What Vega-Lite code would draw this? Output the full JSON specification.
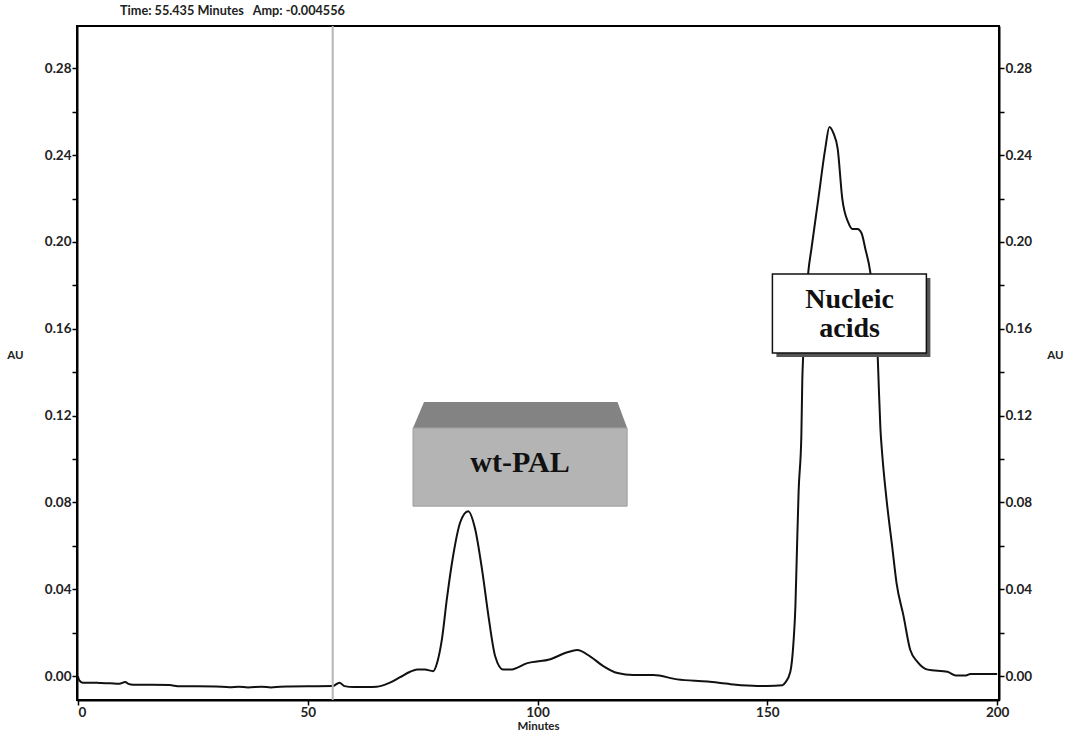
{
  "$schema": "https://vega.github.io/schema/vega-lite/v6.json",
  "width": 922,
  "height": 674,
  "autosize": {"type": "none"},
  "padding": {"left": 77, "top": 26, "right": 70, "bottom": 33},
  "background": "white",
  "config": {
    "view": {"stroke": "#000", "strokeWidth": 2},
    "axis": {
      "domainColor": "#000", "domainWidth": 2, "tickColor": "#000", "tickWidth": 1.5, "tickSize": 5,
      "labelFont": "Lato", "labelFontWeight": "bold", "labelFontSize": 13.5, "labelColor": "#222",
      "titleFont": "Lato", "titleFontWeight": "bold", "titleFontSize": 11.5, "titleColor": "#222",
      "grid": false
    }
  },
  "title": {
    "text": "Time: 55.435 Minutes\u00a0\u00a0\u00a0Amp: -0.004556",
    "anchor": "start", "frame": "group", "dx": 43, "offset": 7,
    "font": "Lato", "fontWeight": "bold", "fontSize": 12.7, "color": "#222"
  },
  "datasets": {
    "curve": [
      {"t": 0, "au": 0.000}, {"t": 0.3, "au": -0.002}, {"t": 1, "au": -0.003}, {"t": 3, "au": -0.003},
      {"t": 5, "au": -0.0032}, {"t": 7, "au": -0.0033}, {"t": 9, "au": -0.0035}, {"t": 10.3, "au": -0.0027},
      {"t": 11, "au": -0.0036}, {"t": 12, "au": -0.004}, {"t": 16, "au": -0.004}, {"t": 20, "au": -0.0041},
      {"t": 21, "au": -0.0044}, {"t": 22, "au": -0.0047}, {"t": 26, "au": -0.0047}, {"t": 30, "au": -0.0048},
      {"t": 33, "au": -0.0051}, {"t": 35, "au": -0.0049}, {"t": 37, "au": -0.0052}, {"t": 40, "au": -0.0049},
      {"t": 42, "au": -0.0052}, {"t": 44, "au": -0.0049}, {"t": 46, "au": -0.0048}, {"t": 50, "au": -0.0047},
      {"t": 55.4, "au": -0.0046}, {"t": 56.9, "au": -0.003}, {"t": 58, "au": -0.0046}, {"t": 60, "au": -0.005},
      {"t": 63, "au": -0.005}, {"t": 65, "au": -0.0049}, {"t": 67.9, "au": -0.003}, {"t": 70.1, "au": -0.0005},
      {"t": 72.3, "au": 0.002}, {"t": 73.8, "au": 0.003}, {"t": 75.5, "au": 0.003}, {"t": 77.3, "au": 0.0023},
      {"t": 78.2, "au": 0.0065}, {"t": 79.2, "au": 0.017}, {"t": 80.3, "au": 0.036}, {"t": 81.6, "au": 0.055},
      {"t": 83.2, "au": 0.071}, {"t": 84.9, "au": 0.076}, {"t": 86.4, "au": 0.068}, {"t": 88.0, "au": 0.048},
      {"t": 89.3, "au": 0.028}, {"t": 90.8, "au": 0.009}, {"t": 92.5, "au": 0.003}, {"t": 94.1, "au": 0.003},
      {"t": 97.8, "au": 0.006}, {"t": 102.8, "au": 0.0078}, {"t": 106.5, "au": 0.011}, {"t": 108.6, "au": 0.012},
      {"t": 111.5, "au": 0.009}, {"t": 114.3, "au": 0.0046}, {"t": 117.4, "au": 0.0014}, {"t": 120.8, "au": 0.0005},
      {"t": 125.2, "au": 0.0005}, {"t": 130.4, "au": -0.0015}, {"t": 137.0, "au": -0.0025}, {"t": 142.0, "au": -0.0037},
      {"t": 147.8, "au": -0.0045}, {"t": 150, "au": -0.0045}, {"t": 153.3, "au": -0.0042}, {"t": 153.9, "au": -0.003},
      {"t": 155.0, "au": 0.002}, {"t": 155.7, "au": 0.016}, {"t": 156.1, "au": 0.032}, {"t": 156.4, "au": 0.055},
      {"t": 156.8, "au": 0.085}, {"t": 157.4, "au": 0.111}, {"t": 157.6, "au": 0.136}, {"t": 157.8, "au": 0.148},
      {"t": 158.9, "au": 0.186}, {"t": 159.6, "au": 0.197}, {"t": 161.1, "au": 0.220}, {"t": 162.6, "au": 0.243},
      {"t": 163.5, "au": 0.253}, {"t": 164.4, "au": 0.250}, {"t": 165.3, "au": 0.243}, {"t": 166.3, "au": 0.220},
      {"t": 167.6, "au": 0.209}, {"t": 168.5, "au": 0.206}, {"t": 169.6, "au": 0.206}, {"t": 170.5, "au": 0.204},
      {"t": 171.3, "au": 0.197}, {"t": 172.4, "au": 0.186}, {"t": 174.0, "au": 0.148}, {"t": 174.2, "au": 0.136},
      {"t": 174.6, "au": 0.114}, {"t": 175.0, "au": 0.102}, {"t": 175.9, "au": 0.082}, {"t": 177.2, "au": 0.059},
      {"t": 178.1, "au": 0.043}, {"t": 179.6, "au": 0.028}, {"t": 181.1, "au": 0.012}, {"t": 182.7, "au": 0.0065},
      {"t": 184.9, "au": 0.003}, {"t": 189.2, "au": 0.002}, {"t": 191.0, "au": 0.0003}, {"t": 193.2, "au": 0.0003},
      {"t": 194.2, "au": 0.001}, {"t": 200, "au": 0.001}
    ],
    "roof": [
      {"t": 72.9, "top": 0.1143, "base": 0.1143},
      {"t": 75.3, "top": 0.1263, "base": 0.1143},
      {"t": 117.4, "top": 0.1263, "base": 0.1143},
      {"t": 119.5, "top": 0.1143, "base": 0.1143}
    ],
    "labels": [
      {"name": "wt-PAL", "x1": 72.9, "x2": 119.5, "y1": 0.0783, "y2": 0.1143, "tx": 96.2, "ty": 0.0982},
      {"name": "Nucleic acids", "x1": 151.1, "x2": 184.6, "y1": 0.1488, "y2": 0.1853, "tx": 167.9, "ty": 0.1733}
    ],
    "cursor": [{"t": 55.435}]
  },
  "layer": [
    {
      "data": {"name": "curve"},
      "mark": {"type": "line", "color": "#111", "strokeWidth": 2, "interpolate": "monotone", "clip": true},
      "encoding": {
        "x": {"field": "t", "type": "quantitative", "scale": {"domain": [-0.2, 200.4], "nice": false, "zero": false},
              "axis": {"values": [0, 50, 100, 150, 200], "title": "Minutes", "titlePadding": 2, "labelPadding": 0}},
        "y": {"field": "au", "type": "quantitative", "scale": {"domain": [-0.011, 0.2995], "nice": false, "zero": false},
              "axis": {"orient": "left", "values": [0, 0.02, 0.04, 0.06, 0.08, 0.1, 0.12, 0.14, 0.16, 0.18, 0.2, 0.22, 0.24, 0.26, 0.28],
                       "labelExpr": "round(datum.value*100) % 4 == 0 ? format(datum.value, '.2f') : ''",
                       "title": "AU", "titleAngle": 0, "titleX": -62, "titleY": 329, "titleAlign": "center", "titleBaseline": "middle", "labelPadding": 1}}
      }
    },
    {
      "data": {"name": "cursor"},
      "mark": {"type": "rule", "color": "#b5b5b5", "strokeWidth": 2},
      "encoding": {"x": {"field": "t", "type": "quantitative"}}
    },
    {
      "data": {"name": "roof"},
      "mark": {"type": "area", "color": "#838383", "opacity": 1},
      "encoding": {
        "x": {"field": "t", "type": "quantitative"},
        "y": {"field": "top", "type": "quantitative", "axis": null},
        "y2": {"field": "base"}
      }
    },
    {
      "data": {"name": "labels"},
      "transform": [{"filter": "datum.name == 'wt-PAL'"}],
      "layer": [
        {"mark": {"type": "rect", "fill": "#b4b4b4", "stroke": "#a0a0a0", "strokeWidth": 1},
         "encoding": {"x": {"field": "x1", "type": "quantitative"}, "x2": {"field": "x2"},
                      "y": {"field": "y1", "type": "quantitative", "axis": null}, "y2": {"field": "y2"}}},
        {"mark": {"type": "text", "font": "Liberation Serif", "fontWeight": "bold", "fontSize": 30, "color": "#111", "baseline": "middle"},
         "encoding": {"x": {"field": "tx", "type": "quantitative"}, "y": {"field": "ty", "type": "quantitative", "axis": null}, "text": {"field": "name"}}}
      ]
    },
    {
      "data": {"name": "labels"},
      "transform": [{"filter": "datum.name == 'Nucleic acids'"}],
      "layer": [
        {"mark": {"type": "rect", "fill": "#555", "xOffset": 4, "yOffset": 4, "x2Offset": 4, "y2Offset": 4},
         "encoding": {"x": {"field": "x1", "type": "quantitative"}, "x2": {"field": "x2"},
                      "y": {"field": "y1", "type": "quantitative", "axis": null}, "y2": {"field": "y2"}}},
        {"mark": {"type": "rect", "fill": "white", "stroke": "#111", "strokeWidth": 1.5},
         "encoding": {"x": {"field": "x1", "type": "quantitative"}, "x2": {"field": "x2"},
                      "y": {"field": "y1", "type": "quantitative", "axis": null}, "y2": {"field": "y2"}}},
        {"mark": {"type": "text", "font": "Liberation Serif", "fontWeight": "bold", "fontSize": 28, "color": "#111", "baseline": "middle", "lineHeight": 29, "lineBreak": " "},
         "encoding": {"x": {"field": "tx", "type": "quantitative"}, "y": {"field": "ty", "type": "quantitative", "axis": null}, "text": {"field": "name"}}}
      ]
    },
    {
      "data": {"name": "cursor"},
      "mark": {"type": "rule", "opacity": 0},
      "encoding": {
        "y": {"datum": 0, "type": "quantitative",
              "axis": {"orient": "right", "values": [0, 0.02, 0.04, 0.06, 0.08, 0.1, 0.12, 0.14, 0.16, 0.18, 0.2, 0.22, 0.24, 0.26, 0.28],
                       "labelExpr": "round(datum.value*100) % 4 == 0 ? format(datum.value, '.2f') : ''",
                       "title": "AU", "titleAngle": 0, "titleX": 56, "titleY": 329, "titleAlign": "center", "titleBaseline": "middle", "labelPadding": 1}}
      }
    }
  ],
  "resolve": {"axis": {"y": "independent"}}
}
